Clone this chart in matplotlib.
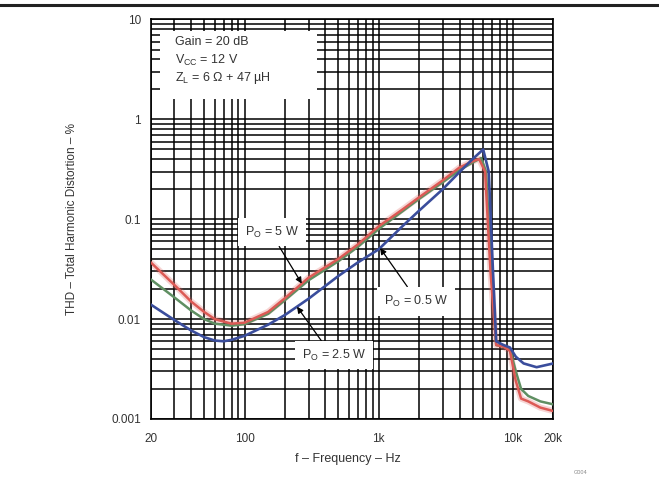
"""THD+N vs frequency, three output powers, datasheet style log-log chart."""
import numpy as np
import matplotlib
matplotlib.use("Agg")
import matplotlib.pyplot as plt
from matplotlib.lines import Line2D
from matplotlib.patches import Rectangle

plt.rcParams["font.family"] = ["Liberation Sans", "DejaVu Sans"]
plt.rcParams["mathtext.default"] = "regular"

# values (Hz, %)
f_5w = [20, 30, 40, 50, 60, 80, 100, 150, 200, 300, 500, 700, 1000, 1500,
        2000, 3000, 4000, 5000, 5600, 6200, 6800, 7500, 8500, 9500, 10500,
        11500, 13000, 16000, 20000]
thd_5w = [0.037, 0.022, 0.015, 0.0118, 0.0100, 0.0090, 0.0092, 0.0118, 0.0162,
          0.026, 0.040, 0.056, 0.085, 0.125, 0.166, 0.245, 0.33, 0.38, 0.40,
          0.30, 0.03, 0.0055, 0.0053, 0.0048, 0.0024, 0.0016, 0.0015, 0.0013,
          0.0012]

f_2w5 = [20, 30, 40, 50, 60, 80, 100, 150, 200, 300, 500, 700, 1000, 1500,
         2000, 3000, 4000, 5000, 5800, 6300, 6900, 7500, 8500, 9500, 10500,
         11500, 13000, 16000, 20000]
thd_2w5 = [0.025, 0.0165, 0.0122, 0.0100, 0.0090, 0.0086, 0.0089, 0.0113,
           0.0155, 0.0245, 0.038, 0.053, 0.080, 0.120, 0.160, 0.235, 0.31,
           0.37, 0.41, 0.30, 0.03, 0.0055, 0.0053, 0.0050, 0.0030, 0.0020,
           0.0017, 0.0015, 0.0014]

f_0w5 = [20, 30, 40, 50, 60, 70, 80, 100, 150, 200, 300, 500, 700, 1000, 1500,
         2000, 3000, 4000, 5000, 6000, 6600, 7100, 7500, 8500, 9500, 10500,
         12000, 15000, 20000]
thd_0w5 = [0.0140, 0.0098, 0.0077, 0.0066, 0.0061, 0.0060, 0.0062, 0.0068,
           0.0088, 0.0110, 0.0160, 0.027, 0.037, 0.050, 0.085, 0.122, 0.20,
           0.297, 0.40, 0.50, 0.30, 0.03, 0.006, 0.0055, 0.0052, 0.0042,
           0.0036, 0.0033, 0.0036]

x_ticks = [20, 100, 1000, 10000, 20000]
x_labels = ["20", "100", "1k", "10k", "20k"]
y_ticks = [0.001, 0.01, 0.1, 1, 10]
y_labels = ["0.001", "0.01", "0.1", "1", "10"]

RED, GREEN, BLUE = "#dc5a55", "#5f8f62", "#3a4d9c"


def on_curve(f, fs, vs):
    """Point of a series at frequency f, interpolated in log-log."""
    return f, 10 ** np.interp(np.log10(f), np.log10(fs), np.log10(vs))


fig = plt.figure(figsize=(6.59, 4.79), dpi=100)
ax = fig.add_axes([0.2287, 0.1253, 0.611, 0.834])
ax.set_xscale("log")
ax.set_yscale("log")
ax.set_xlim(20, 20000)
ax.set_ylim(0.001, 10)

ax.grid(which="both", color="black", lw=1.1)
ax.set_axisbelow(True)

# red gets a soft halo like the scanned original
ax.plot(f_5w, thd_5w, color=RED, lw=4.5, alpha=0.25, zorder=2)
ax.plot(f_2w5, thd_2w5, color=GREEN, lw=1.8, zorder=3)
ax.plot(f_5w, thd_5w, color=RED, lw=1.8, zorder=4)
ax.plot(f_0w5, thd_0w5, color=BLUE, lw=1.9, zorder=5)

ax.set_xticks(x_ticks)
ax.set_xticklabels(x_labels)
ax.set_yticks(y_ticks)
ax.set_yticklabels(y_labels)
ax.tick_params(which="both", length=0, labelsize=8.5, colors="#333333")
ax.tick_params(axis="x", pad=10)
ax.tick_params(axis="y", pad=7)
for s in ax.spines.values():
    s.set_color("black")
    s.set_linewidth(1.2)

ax.set_xlabel("f \u2013 Frequency \u2013 Hz", fontsize=9, color="#333333")
ax.xaxis.set_label_coords(0.49, -0.085)
ax.set_ylabel("THD \u2013 Total Harmonic Distortion \u2013 %", fontsize=8.5,
              color="#333333")
ax.yaxis.set_label_coords(-0.18, 0.5)

# conditions box
ax.add_patch(Rectangle((0.023, 0.801), 0.39, 0.171, transform=ax.transAxes,
                       fc="white", ec="none", zorder=6))
for yy, txt in [(0.944, "Gain = 20 dB"), (0.898, "V$_{CC}$ = 12 V"),
                (0.853, "Z$_L$ = 6 \u03a9 + 47 \u00b5H")]:
    ax.text(0.06, yy, txt, transform=ax.transAxes, fontsize=9, va="center",
            color="#333333", zorder=7)

box = dict(boxstyle="square,pad=0.55", fc="white", ec="none")
arrow = dict(arrowstyle="-|>", color="black", lw=0.9, mutation_scale=9,
             shrinkA=0, shrinkB=0)

ax.annotate("P$_O$ = 5 W", xy=on_curve(267, f_5w, thd_5w),
            xytext=(0.302, 0.468), textcoords="axes fraction",
            ha="center", va="center", fontsize=9, color="#333333", bbox=box,
            arrowprops=dict(arrow, relpos=(0.55, 0.0)), zorder=8)
ax.annotate("P$_O$ = 0.5 W", xy=on_curve(1023, f_0w5, thd_0w5),
            xytext=(0.659, 0.295), textcoords="axes fraction",
            ha="center", va="center", fontsize=9, color="#333333", bbox=box,
            arrowprops=dict(arrow, relpos=(0.44, 1.0)), zorder=8)
ax.annotate("P$_O$ = 2.5 W", xy=on_curve(246, f_0w5, thd_0w5),
            xytext=(0.455, 0.160), textcoords="axes fraction",
            ha="center", va="center", fontsize=9, color="#333333", bbox=box,
            arrowprops=dict(arrow, relpos=(0.38, 1.0)), zorder=8)

# page rule across the top and the figure id
fig.add_artist(Line2D([0, 1], [1 - 5 / 479, 1 - 5 / 479], color="#222222",
                      lw=2.2))
fig.text(0.87, 0.01, "G004", fontsize=4, color="#888888")

fig.savefig("out.png", dpi=100)
